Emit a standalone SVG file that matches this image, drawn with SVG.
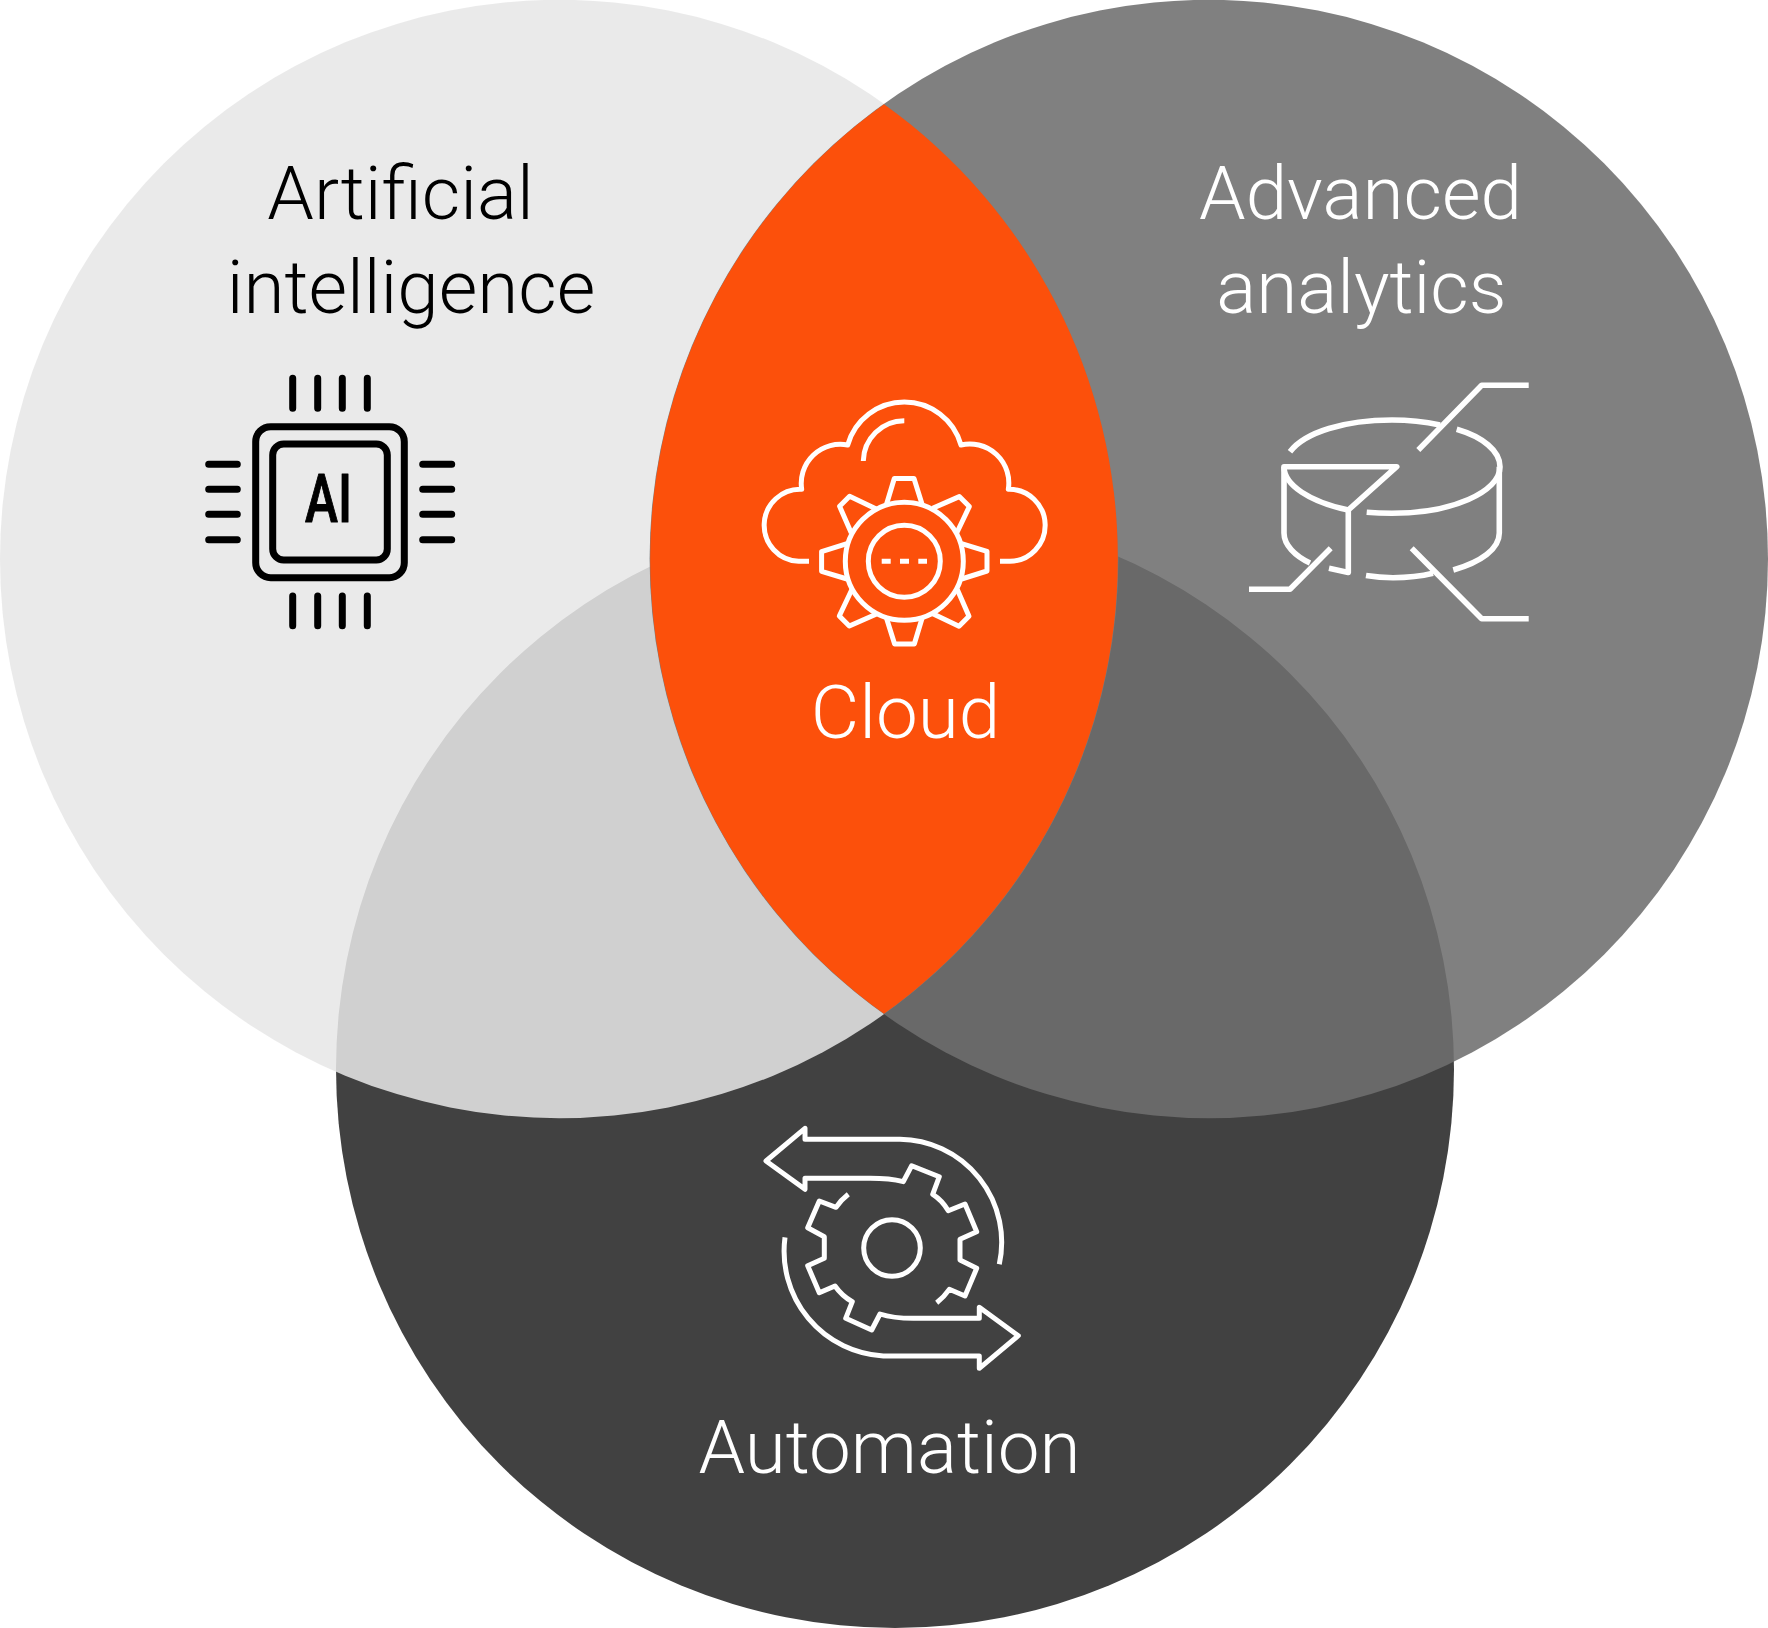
<svg xmlns="http://www.w3.org/2000/svg" width="1768" height="1628" viewBox="0 0 1768 1628">
<style>
.lbl{font-family:Roboto,"Liberation Sans",sans-serif;font-weight:300;font-size:74.6px}
.w{fill:#fff}.k{fill:#000}
.ic{fill:none;stroke:#fff;stroke-width:5;stroke-linejoin:round}
.chip{fill:none;stroke:#000;stroke-width:7;stroke-linecap:round}
</style>
<defs>
<polyline id="tooth-n" points="-17.7,-57.3 -10,-82.7 9.7,-82.7 17.7,-57.3"/>
<polyline id="tooth-ne" points="28.3,-53 55,-64.7 65,-54.7 52.3,-28"/>
</defs>
<g id="regions">
<circle cx="895" cy="1069" r="559" fill="#414141"/>
<circle cx="559.2" cy="559" r="559.2" fill="#e7e7e7" fill-opacity="0.8632"/>
<circle cx="1208.8" cy="559" r="559.2" fill="#6e6e6e" fill-opacity="0.879"/>
<path d="M884 104.2A559.2 559.2 0 0 1 884 1013.8A559.2 559.2 0 0 1 884 104.2Z" fill="#fc500b"/>
</g>
<g id="connectors"/>
<g id="node-ai">
<text class="lbl k" x="400.5" y="218.5" text-anchor="middle">Artificial</text>
<text class="lbl k" x="411" y="313" text-anchor="middle">intelligence</text>
<g class="chip">
<rect x="255.7" y="426.7" width="148.6" height="151" rx="15"/>
<rect x="272.7" y="444" width="114.6" height="116" rx="11"/>
<path d="M292.7 378.3V408.3M317.7 378.3V408.3M342.3 378.3V408.3M367.3 378.3V408.3M292.7 596V625.7M317.7 596V625.7M342.3 596V625.7M367.3 596V625.7M208.7 464.3H237.3M208.7 489.3H237.3M208.7 514.3H237.3M208.7 539.7H237.3M422.7 464.3H451.7M422.7 489.3H451.7M422.7 514.3H451.7M422.7 539.7H451.7"/>
</g>
<text x="305" y="522" font-family="Roboto,'Liberation Sans',sans-serif" font-weight="500" font-size="66" textLength="47" lengthAdjust="spacingAndGlyphs" stroke="#000" stroke-width="1" stroke-linejoin="round" class="k">AI</text>
</g>
<g id="node-analytics">
<text class="lbl w" x="1360.5" y="218.5" text-anchor="middle">Advanced</text>
<text class="lbl w" x="1361.5" y="313" text-anchor="middle">analytics</text>
<g class="ic" style="stroke-width:5.6">
<path d="M1528.7 385.3H1481.7L1418.3 450"/>
<path d="M1290 451.7C1305 432 1345 420 1392 420C1410 420 1426 422 1440 425"/>
<path d="M1456.7 429.3C1483 437 1500 451 1500 466.7C1500 492 1452 513.3 1392 513.3C1382 513.3 1375 513 1366.7 512.3"/>
<path d="M1329 568.3L1348.3 572.5V510L1396.7 466.7H1284V533C1284 545 1295 556 1310 563"/>
<path d="M1284 466.7C1284 485 1310 502 1348.3 510"/>
<path d="M1249 589.3H1290L1330.7 548.3"/>
<path d="M1499.3 466.7V533C1499.3 549 1481 562 1453.3 570"/>
<path d="M1433 573.3C1420 576.5 1406 577.7 1393 577.7C1383 577.7 1374 576.8 1366 575.5"/>
<path d="M1411.7 548.3L1481.7 618.7H1528.7"/>
</g>
</g>
<g id="node-cloud">
<text class="lbl w" x="905.5" y="738" text-anchor="middle">Cloud</text>
<g class="ic">
<path d="M809 561.3H798.7A36 36 0 0 1 801.7 489.3A39 39 0 0 1 847.7 445A58.8 58.8 0 0 1 961 445A39 39 0 0 1 1008.3 489.3A36 36 0 0 1 1010 561.3H1000"/>
<path d="M863.3 461A41 41 0 0 1 904.3 420.7"/>
<g transform="translate(904.3 561.3)">
<circle r="59"/><circle r="36"/>
<path d="M-22.6 0H-13.6M-4.3 0H4.7M14 0H22.7"/>
<use href="#tooth-n"/>
<use href="#tooth-n" transform="rotate(90)"/>
<use href="#tooth-n" transform="rotate(180)"/>
<use href="#tooth-n" transform="rotate(270)"/>
<use href="#tooth-ne"/>
<use href="#tooth-ne" transform="rotate(90)"/>
<use href="#tooth-ne" transform="rotate(180)"/>
<use href="#tooth-ne" transform="rotate(270)"/>
</g>
</g>
</g>
<g id="node-automation">
<text class="lbl w" x="889.5" y="1473" text-anchor="middle">Automation</text>
<g class="ic">
<path d="M999.3 1264.3A103 103 0 0 0 900 1139.3H805V1128.3L766 1161L805 1189.3V1178.3H870Q890 1178.3 903.3 1181.7L911.7 1165.7L939.3 1176.7L932.7 1194.3Q942 1200 948.3 1210.7L965 1204L976.7 1231.7L960 1239.3V1260L976.7 1268.3L965 1296L949.3 1289.3Q944 1297 936.7 1302.7"/>
<path d="M785 1237.3A105 105 0 0 0 883.3 1356H979.3V1368.3L1018.3 1335.7L979.3 1307.3V1318.3H913.3Q893 1318.3 880 1314L871.7 1330L845.7 1318.3L852.3 1301.7Q842 1296 835 1286L819.3 1292.7L807.7 1265.7L824.3 1258.3V1236.7L807.7 1227.7L819.3 1201L836 1207.3Q841 1200 848.3 1194.3"/>
<circle cx="892" cy="1248" r="28.3"/>
</g>
</g>
</svg>
